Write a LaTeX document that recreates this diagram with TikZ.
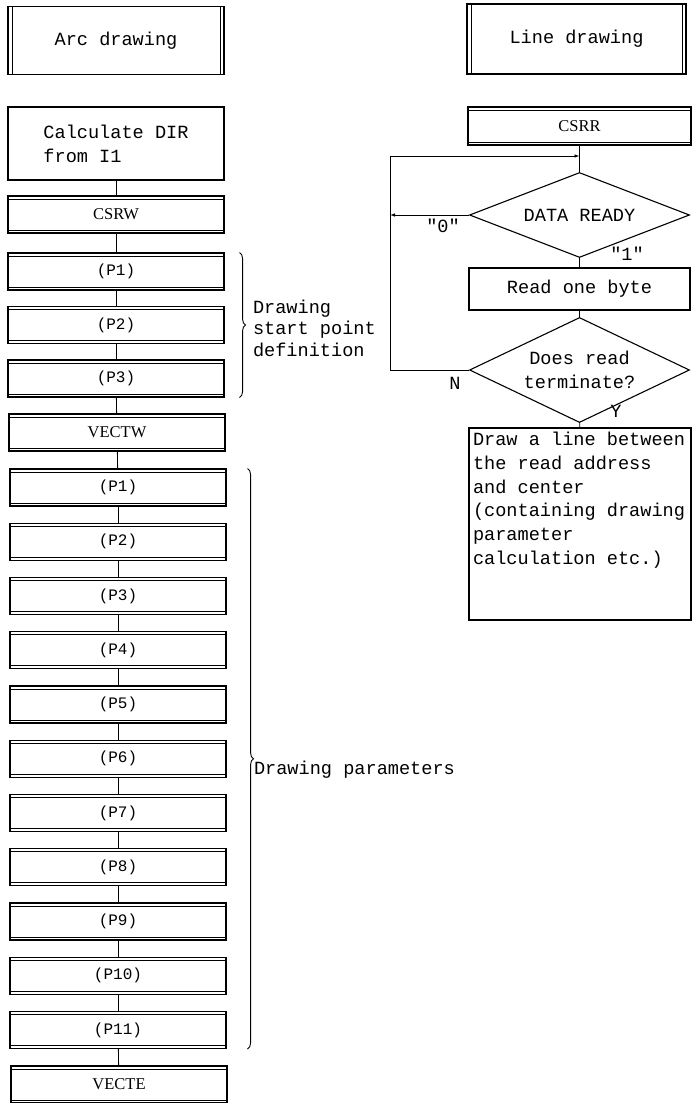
\documentclass[tikz,border=0pt]{standalone}
\usepackage{fontspec}
\setmainfont{Liberation Serif}
\setmonofont{Liberation Mono}
\usepackage{tikz}
\usetikzlibrary{
  arrows.meta,
  positioning,
  shapes.geometric,
  decorations.pathreplacing,
  calc
}
\newcommand\codesize{\fontsize{18.6}{23.8}\selectfont}

\tikzset{
  base/.style={draw,line width=1.1pt,font=\codesize\ttfamily,inner sep=4pt},
  termbox/.style={base,minimum width=216pt,minimum height=68pt,
    path picture={\draw[line width=0.8pt]
      ([xshift=4pt]path picture bounding box.north west) -- ([xshift=4pt]path picture bounding box.south west)
      ([xshift=-4pt]path picture bounding box.north east) -- ([xshift=-4pt]path picture bounding box.south east);}},
  subbox/.style={base,minimum width=216pt,minimum height=37pt,
    path picture={\draw[line width=0.8pt]
      ([yshift=-3pt]path picture bounding box.north west) -- ([yshift=-3pt]path picture bounding box.north east)
      ([yshift=3pt]path picture bounding box.south west) -- ([yshift=3pt]path picture bounding box.south east);}},
  namefont/.style={font=\fontsize{16.5}{20}\selectfont\rmfamily},
  parfont/.style={font=\fontsize{16}{20}\selectfont\ttfamily},
  procbox/.style={base,minimum width=216pt},
  decbox/.style={base,diamond,minimum width=220pt,minimum height=85pt,
    inner xsep=-12pt,inner ysep=-10pt},
  lbl/.style={font=\codesize\ttfamily,inner sep=0pt},
  flow/.style={line width=0.8pt},
  back/.style={flow,-{Latex[length=5pt,width=3.5pt]}},
  brace/.style={decorate,decoration={brace,amplitude=6pt},line width=0.9pt}
}

\begin{document}
\begin{tikzpicture}[x=1pt,y=-1pt]
  \useasboundingbox (0,0) rectangle (692,1103);

  % arc drawing column
  \node[termbox] (arc) at (116,40.5) {Arc drawing};
  \node[procbox,minimum height=73pt,align=left] (dir) at (116,143.5) {Calculate DIR\\from I1};
  \node[subbox,namefont] (csrw) at (116,214.5) {CSRW};
  \foreach \i in {1,2,3}
    \node[subbox,parfont] (sa\i) at (116,{271.5+(\i-1)*53.5}) {(P\i)};
  \node[subbox,namefont] (vectw) at (117,432.5) {VECTW};
  \foreach \i in {1,...,11}
    \node[subbox,parfont] (pb\i) at (118,{487.5+(\i-1)*54.25}) {(P\i)};
  \node[subbox,namefont] (vecte) at (119,1084.5) {VECTE};

  \foreach \a/\b in {dir/csrw,csrw/sa1,sa1/sa2,sa2/sa3,sa3/vectw,vectw/pb1,
      pb1/pb2,pb2/pb3,pb3/pb4,pb4/pb5,pb5/pb6,pb6/pb7,pb7/pb8,pb8/pb9,
      pb9/pb10,pb10/pb11,pb11/vecte}
    \draw[flow] (\a) -- (\b);

  \draw[brace] ([xshift=15pt]sa1.north east) -- ([xshift=15pt]sa3.south east)
    node[midway,right=13pt,yshift=-3pt,align=left,lbl,font=\fontsize{18.6}{21.5}\selectfont\ttfamily] (startlbl)
    {Drawing\\start point\\definition};
  \draw[brace] ([xshift=21pt]pb1.north east) -- ([xshift=21pt]pb11.south east)
    node[midway,right=6pt,yshift=-11pt,lbl] (parlbl) {Drawing parameters};

  % line drawing column
  \node[termbox,minimum width=219pt,minimum height=70pt] (line) at (576.5,39) {Line drawing};
  \node[subbox,namefont,minimum width=223pt,minimum height=38pt] (csrr) at (579.5,126) {CSRR};
  \node[decbox] (ready) at (579.5,215) {DATA READY};
  \node[procbox,minimum width=221pt,minimum height=42pt] (byte) at (579.5,289) {Read one byte};
  \node[decbox,align=center] (term) at (579.5,370) {Does read\\terminate?};
  \node[procbox,minimum width=222pt,minimum height=192pt] (result) at (580,524)
    {\parbox[c][184pt][t]{214pt}{\raggedright Draw a line between\\the read address\\and center\\(containing drawing\\parameter\\calculation etc.)}};

  \coordinate (join) at (579.5,156);
  \coordinate (loopne) at (390,156);
  \coordinate (loopsw) at (390,370);

  \draw[flow] (csrr) -- (ready);
  \draw[flow] (ready) -- (byte);
  \draw[flow] (byte) -- (term);
  \draw[flow] (term) -- (result);
  \draw[back] (term.west) -- (loopsw) -- (loopne) -- (join);
  \draw[back] (ready.west) -- (ready.west -| loopne);

  \node[lbl] (zero) at (443,226) {"0"};
  \node[lbl] (one) at (627,254) {"1"};
  \node[lbl] (no) at (455,383) {N};
  \node[lbl] (yes) at (616,411) {Y};
\end{tikzpicture}
\end{document}
